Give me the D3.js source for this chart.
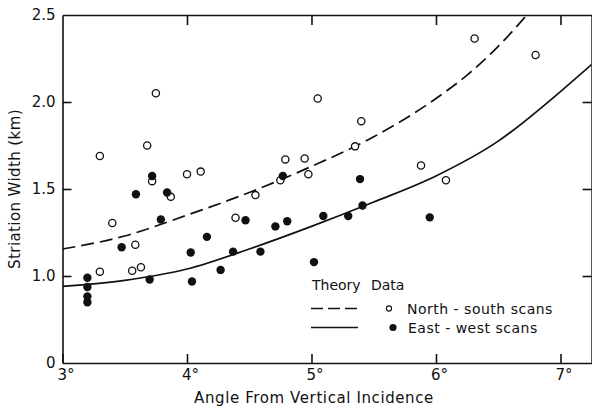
<!DOCTYPE html>
<html>
<head>
<meta charset="utf-8">
<script src="https://cdn.jsdelivr.net/npm/d3@7"></script>
<style>
  body { margin: 0; background: #fff; }
  svg { display: block; font-family: "DejaVu Sans", sans-serif; }
  .axis path, .axis line { stroke: #111; stroke-width: 1.6; }
  .axis text { font-size: 15px; fill: #111; font-family: "DejaVu Sans", sans-serif; }
</style>
</head>
<body>
<div class="chart"></div>
<script>
// values: angle (deg) and striation width (km)
const nsAngle = [3.30, 3.75, 3.68, 3.72, 4.00, 4.11, 3.40, 3.585, 3.30, 3.56, 3.63, 3.87, 4.39,
                 4.79, 4.945, 4.75, 4.975, 5.35, 5.40, 5.05, 4.55, 5.88, 6.08, 6.31, 6.80];
const nsWidth = [1.69, 2.05, 1.75, 1.545, 1.585, 1.60, 1.305, 1.18, 1.025, 1.03, 1.05, 1.455, 1.335,
                 1.67, 1.675, 1.55, 1.585, 1.745, 1.89, 2.02, 1.465, 1.635, 1.55, 2.365, 2.27];

const ewAngle = [3.72, 3.59, 3.84, 3.79, 3.475, 4.16, 4.03, 4.37, 4.27, 3.70, 4.04, 3.20, 3.20,
                 3.20, 3.20, 4.47, 4.71, 4.805, 4.59, 5.02, 5.095, 5.295, 5.41, 5.39, 4.77, 5.95];
const ewWidth = [1.575, 1.47, 1.48, 1.325, 1.165, 1.225, 1.135, 1.14, 1.035, 0.98, 0.968, 0.99, 0.937,
                 0.883, 0.849, 1.32, 1.285, 1.315, 1.14, 1.08, 1.345, 1.345, 1.405, 1.557, 1.575, 1.337];

// theory curves, read at sample angles
const nsTheoryAngle = [3.0, 3.5, 4.0, 4.5, 5.0, 5.5, 6.0, 6.25, 6.5, 6.73];
const nsTheoryWidth = [1.155, 1.23, 1.35, 1.48, 1.63, 1.80, 2.02, 2.155, 2.32, 2.50];
const ewTheoryAngle = [3.0, 3.5, 4.0, 4.5, 5.0, 5.5, 6.0, 6.5, 7.0, 7.25];
const ewTheoryWidth = [0.94, 0.975, 1.04, 1.155, 1.285, 1.425, 1.575, 1.775, 2.06, 2.215];

const xTicks = [3, 4, 5, 6, 7];
const yTicks = [0.5, 1.0, 1.5, 2.0, 2.5];
const yTickLabels = ['0', '1.0', '1.5', '2.0', '2.5'];

const width = 592;
const height = 409;
const svg = d3.select('.chart')
    .append('svg')
    .attr('width', width)
    .attr('height', height);

const x = d3.scaleLinear().domain([3, 7.25]).range([62.5, 591.6]);
const y = d3.scaleLinear().domain([0.5, 2.5]).range([363, 15]);

// axes (ticks point inward)
svg.append('g')
    .attr('class', 'axis')
    .attr('transform', `translate(0,${y(0.5)})`)
    .call(d3.axisBottom(x).tickValues(xTicks).tickSizeInner(-9).tickSizeOuter(0)
        .tickPadding(6).tickFormat(d => d + '°'))
    .call(g => g.selectAll('.tick text').attr('dx', 3));

svg.append('g')
    .attr('class', 'axis')
    .attr('transform', `translate(0,${y(2.5)})`)
    .call(d3.axisTop(x).tickValues([4, 5, 6, 7]).tickSizeInner(-10).tickSizeOuter(0).tickFormat(''));

svg.append('g')
    .attr('class', 'axis')
    .attr('transform', `translate(${x(3)},0)`)
    .call(d3.axisLeft(y).tickValues(yTicks).tickSizeInner(-9).tickSizeOuter(0)
        .tickPadding(7).tickFormat((d, i) => yTickLabels[i]))
    .call(g => g.selectAll('.tick line').filter(d => d == 0.5 || d == 2.5).remove());

svg.append('g')
    .attr('class', 'axis')
    .attr('transform', `translate(${x(7.25)},0)`)
    .call(d3.axisRight(y).tickValues([1.0, 1.5, 2.0]).tickSizeInner(-9).tickSizeOuter(0).tickFormat(''));

// axis titles
svg.append('text')
    .attr('x', 314)
    .attr('y', 403)
    .attr('text-anchor', 'middle')
    .attr('font-size', 15)
    .attr('letter-spacing', 0.6)
    .attr('fill', '#111')
    .text('Angle From Vertical Incidence');

svg.append('text')
    .attr('transform', 'translate(20,189) rotate(-90)')
    .attr('text-anchor', 'middle')
    .attr('font-size', 15)
    .attr('letter-spacing', 0.4)
    .attr('fill', '#111')
    .text('Striation Width (km)');

// theory curves
svg.append('clipPath').attr('id', 'plot')
    .append('rect')
    .attr('x', x(3)).attr('y', y(2.5))
    .attr('width', x(7.25) - x(3)).attr('height', y(0.5) - y(2.5));

const line = d3.line()
    .x(d => x(d[0]))
    .y(d => y(d[1]))
    .curve(d3.curveMonotoneX);

svg.append('path')
    .datum(d3.zip(nsTheoryAngle, nsTheoryWidth))
    .attr('d', line)
    .attr('clip-path', 'url(#plot)')
    .attr('fill', 'none')
    .attr('stroke', '#111')
    .attr('stroke-width', 1.7)
    .attr('stroke-dasharray', '13,6');

svg.append('path')
    .datum(d3.zip(ewTheoryAngle, ewTheoryWidth))
    .attr('d', line)
    .attr('clip-path', 'url(#plot)')
    .attr('fill', 'none')
    .attr('stroke', '#111')
    .attr('stroke-width', 1.7);

// data points
svg.selectAll('circle.ns')
    .data(d3.zip(nsAngle, nsWidth))
    .enter()
    .append('circle')
    .attr('class', 'ns')
    .attr('cx', d => x(d[0]))
    .attr('cy', d => y(d[1]))
    .attr('r', 3.6)
    .attr('fill', '#fff')
    .attr('stroke', '#111')
    .attr('stroke-width', 1.3);

svg.selectAll('circle.ew')
    .data(d3.zip(ewAngle, ewWidth))
    .enter()
    .append('circle')
    .attr('class', 'ew')
    .attr('cx', d => x(d[0]))
    .attr('cy', d => y(d[1]))
    .attr('r', 4.2)
    .attr('fill', '#111');

// legend
const legend = svg.append('g').attr('font-size', 14).attr('fill', '#111');
legend.append('text').attr('x', 312).attr('y', 290).text('Theory');
legend.append('text').attr('x', 371).attr('y', 290).text('Data');

legend.append('line')
    .attr('x1', 311).attr('x2', 358).attr('y1', 308.5).attr('y2', 308.5)
    .attr('stroke', '#111').attr('stroke-width', 1.5).attr('stroke-dasharray', '12,5');
legend.append('line')
    .attr('x1', 311).attr('x2', 358).attr('y1', 327.5).attr('y2', 327.5)
    .attr('stroke', '#111').attr('stroke-width', 1.5);

legend.append('circle').attr('cx', 389).attr('cy', 308.5).attr('r', 2.6)
    .attr('fill', '#fff').attr('stroke', '#111').attr('stroke-width', 1.1);
legend.append('circle').attr('cx', 393).attr('cy', 327.5).attr('r', 3.6)
    .attr('fill', '#111');

legend.append('text').attr('x', 407).attr('y', 313.5).attr('letter-spacing', 0.5).text('North - south scans');
legend.append('text').attr('x', 408).attr('y', 332.5).attr('letter-spacing', 0.5).text('East - west scans');
</script>
</body>
</html>
